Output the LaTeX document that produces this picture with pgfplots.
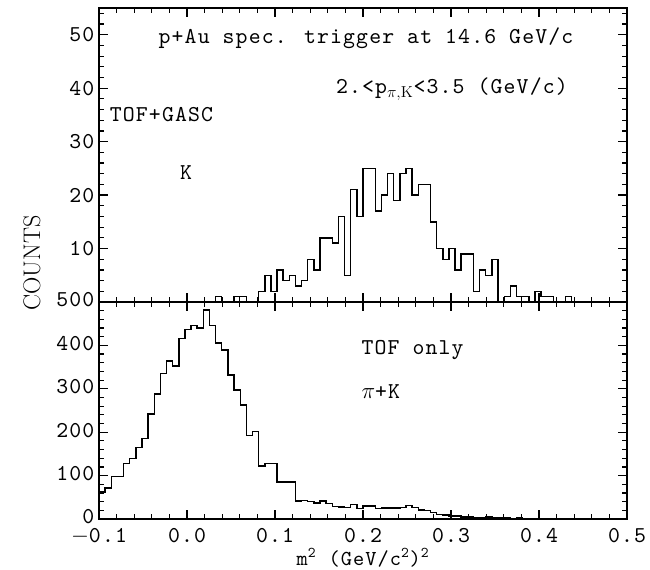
\documentclass[border=0pt]{standalone}
\usepackage{fontspec}
\usepackage{pgfplots}
\pgfplotsset{compat=1.18}
\newfontfamily\plotfont{lmmono10-regular.otf}[LetterSpace=5]
\begin{document}
\begin{tikzpicture}
\pgfplotsset{
  every axis/.append style={
    scale only axis, width=396pt, xmin=-0.1, xmax=0.5,
    axis line style={line width=1.2pt},
    every tick/.style={line width=0.9pt, black},
    major tick length=7pt, minor tick length=3.5pt,
    tick align=inside,
    xtick={-0.1,0,0.1,0.2,0.3,0.4,0.5},
    minor x tick num=4,
    font=\plotfont\fontsize{17}{20}\selectfont,
    /pgf/number format/assume math mode=true,
    xticklabel style={yshift=-3.5pt},
  }
}
\begin{axis}[at={(0,162.75pt)}, anchor=south west, height=220.5pt,
  ymin=0, ymax=55, ytick={0,10,20,30,40,50}, yticklabels={,10,20,30,40,50},
  minor ytick={2,4,...,54}, xticklabels={}]
\addplot[const plot mark left, line width=1.1pt] coordinates {
(0.0256,0) (0.0326,1) (0.0395,0) (0.0465,0) (0.0535,1) (0.0605,1) (0.0674,0) (0.0744,0)
(0.0814,2) (0.0884,5) (0.0953,2) (0.1023,6) (0.1093,4) (0.1163,5) (0.1233,3) (0.1302,4)
(0.1372,8) (0.1442,6) (0.1512,12) (0.1581,12) (0.1651,11) (0.1721,16) (0.1791,5) (0.1860,21)
(0.1930,16) (0.2000,25) (0.2070,25) (0.2140,17) (0.2209,20) (0.2279,24) (0.2349,19) (0.2419,24)
(0.2488,25) (0.2558,20) (0.2628,22) (0.2698,22) (0.2767,15) (0.2837,10) (0.2907,8) (0.2977,10)
(0.3047,6) (0.3116,9) (0.3186,9) (0.3256,2) (0.3326,6) (0.3395,5) (0.3465,8) (0.3535,0)
(0.3605,1) (0.3674,3) (0.3744,1) (0.3814,1) (0.3884,0) (0.3953,2) (0.4023,1) (0.4093,1)
(0.4163,0) (0.4233,0) (0.4302,1) (0.4372,0) (0.4442,0)
};
\node[anchor=center] at (axis cs:0.2034,49.4) {p+Au spec. trigger at 14.6 GeV/c};
\node[anchor=center] at (axis cs:0.301,39.8) {2.<p$_{\pi,\mathrm{K}}$<3.5 (GeV/c)};
\node[anchor=west] at (axis cs:-0.093,35) {TOF+GASC};
\node[anchor=center] at (axis cs:-0.001,24.3) {K};
\end{axis}
\begin{axis}[at={(0,0)}, anchor=south west, height=162.75pt,
  ymin=0, ymax=500, ytick={0,100,...,500}, minor y tick num=4,
  yticklabel style={yshift=1.5pt},
  xticklabels={$-$0.1,0.0,0.1,0.2,0.3,0.4,0.5}]
\addplot[const plot mark left, line width=1.1pt] coordinates {
(-0.1,62) (-0.0930,71) (-0.0860,98) (-0.0791,98) (-0.0721,128) (-0.0651,139) (-0.0581,165) (-0.0512,185)
(-0.0442,242) (-0.0372,288) (-0.0302,335) (-0.0233,364) (-0.0163,353) (-0.0093,416) (-0.0023,437) (0.0047,446)
(0.0116,440) (0.0186,482) (0.0256,446) (0.0326,406) (0.0395,389) (0.0465,332) (0.0535,297) (0.0605,263)
(0.0674,192) (0.0744,202) (0.0814,122) (0.0884,128) (0.0953,128) (0.1023,85) (0.1093,85) (0.1163,85)
(0.1233,42) (0.1302,43) (0.1372,40) (0.1442,37) (0.1512,42) (0.1581,36) (0.1651,29) (0.1721,28)
(0.1791,26) (0.1860,34) (0.1930,24) (0.2000,30) (0.2070,30) (0.2140,24) (0.2209,25) (0.2279,25)
(0.2349,25) (0.2419,26) (0.2488,31) (0.2558,26) (0.2628,21) (0.2698,20) (0.2767,15) (0.2837,10)
(0.2907,9) (0.2977,7) (0.3047,7) (0.3116,5) (0.3186,5) (0.3256,2) (0.3326,2) (0.3395,5)
(0.3465,3) (0.3535,2) (0.3605,3) (0.3674,1) (0.3744,2) (0.3814,1) (0.3884,1) (0.3953,1)
(0.4023,0) (0.4093,1) (0.4163,0) (0.4233,1) (0.4302,0) (0.4372,0) (0.5,0)
};
\node[anchor=west] at (axis cs:0.193,389) {TOF only};
\node[anchor=west] at (axis cs:0.193,293) {$\pi$+K};
\end{axis}
\node[font=\plotfont\fontsize{16}{18}\selectfont] at (198pt,-29pt) {m\textsuperscript{2} (GeV/c\textsuperscript{2})\textsuperscript{2}};
\node[rotate=90, font=\rmfamily\fontsize{18}{20}\selectfont] at (-50.25pt,192pt) {COUNTS};
\pgfresetboundingbox
\path[use as bounding box] (-74.25pt,-37.5pt) rectangle (413.25pt,389.25pt);
\end{tikzpicture}
\end{document}
